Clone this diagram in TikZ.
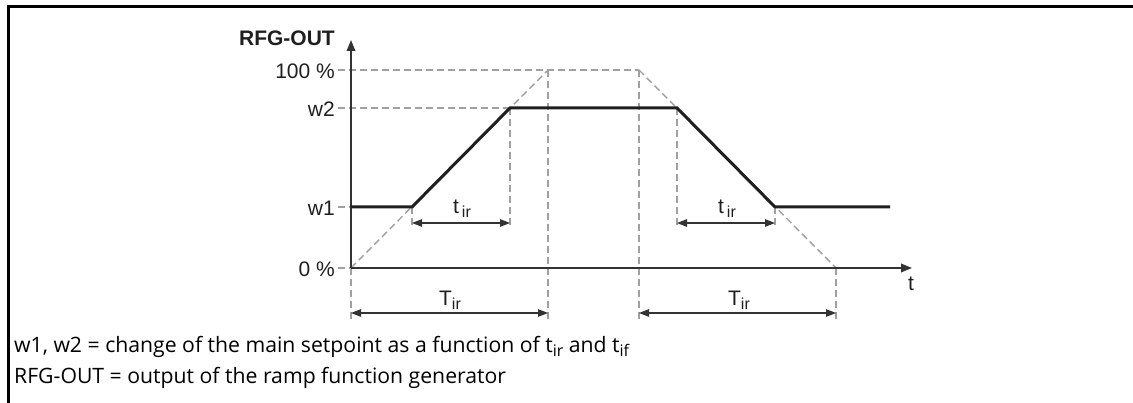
\documentclass[tikz,border=0pt]{standalone}
\usepackage{fontspec}
\setmainfont{Liberation Sans}
\newfontfamily\capfont{Open Sans}
\usetikzlibrary{arrows.meta}
\definecolor{dgray}{HTML}{333333}
\definecolor{lgray}{HTML}{A0A0A0}
\tikzset{
  axisline/.style={line width=1.8pt,draw=dgray},
  curveline/.style={line width=3pt,draw=black!88,line join=miter},
  guide/.style={line width=1.4pt,draw=lgray,dash pattern=on 7pt off 4pt},
  dimline/.style={line width=1.3pt,draw=dgray,{Triangle[length=10pt,width=7.5pt]}-{Triangle[length=10pt,width=7.5pt]}},
  lab/.style={font=\fontsize{21}{23}\selectfont,text=black!88,inner sep=0pt},
  captext/.style={font=\capfont\fontsize{21.2}{24}\selectfont,text=black,inner sep=0pt,anchor=base west},
}
\newcommand{\sbs}[1]{\raisebox{-4pt}{\fontsize{16}{17}\selectfont #1}}
\begin{document}
\begin{tikzpicture}[x=1pt,y=-1pt]
\useasboundingbox (0,0) rectangle (1133,403);
% frame
\draw[line width=3pt] (8,403) -- (8,7) -- (1133,7);
% coordinates
\coordinate (O) at (351,268);
\coordinate (Ytop) at (351,40);
\coordinate (Xend) at (912,268);
\coordinate (A) at (351,207);
\coordinate (B) at (412,207);
\coordinate (C) at (510,108);
\coordinate (D) at (677,108);
\coordinate (E) at (775,207);
\coordinate (F) at (890,207);
\coordinate (H1) at (338,70);
\coordinate (H2) at (338,108);
\coordinate (H3) at (338,207);
\coordinate (H4) at (338,268);
\coordinate (P1) at (548,70);
\coordinate (P2) at (639,70);
\coordinate (Z2) at (836,268);
% guides
\draw[guide] (H1) -- (P2);
\draw[guide] (H2) -- (C);
\draw[guide] (H3) -- (A);
\draw[guide] (H4) -- (O);
\draw[guide] (O) -- (P1);
\draw[guide] (P2) -- (Z2);
\coordinate (vB) at (412,227);
\coordinate (vC) at (510,227);
\coordinate (vD) at (677,227);
\coordinate (vE) at (775,227);
\coordinate (vO) at (351,322);
\coordinate (vP1) at (548,322);
\coordinate (vP2) at (639,322);
\coordinate (vZ) at (836,322);
\draw[guide] (B) -- (vB);
\draw[guide] (C) -- (vC);
\draw[guide] (D) -- (vD);
\draw[guide] (E) -- (vE);
\draw[guide] (O) -- (vO);
\draw[guide] (P1) -- (vP1);
\draw[guide] (P2) -- (vP2);
\draw[guide] (Z2) -- (vZ);
% axes
\draw[axisline,-{Triangle[length=11pt,width=8.5pt]}] (O) -- (Ytop);
\draw[axisline,-{Triangle[length=11pt,width=8.5pt]}] (O) -- (Xend);
% curve
\draw[curveline] (A) -- (B) -- (C) -- (D) -- (E) -- (F);
% dimension arrows
\coordinate (d1a) at (412,223);
\coordinate (d1b) at (510,223);
\coordinate (d2a) at (677,223);
\coordinate (d2b) at (775,223);
\coordinate (d3a) at (351,313);
\coordinate (d3b) at (548,313);
\coordinate (d4a) at (639,313);
\coordinate (d4b) at (836,313);
\draw[dimline] (d1a) -- (d1b);
\draw[dimline] (d2a) -- (d2b);
\draw[dimline] (d3a) -- (d3b);
\draw[dimline] (d4a) -- (d4b);
% labels
\node[lab,font=\bfseries\fontsize{21}{23}\selectfont,anchor=east] (rfg) at (335,38) {RFG-OUT};
\node[lab,anchor=east] (l100) at (335,71) {100 \%};
\node[lab,anchor=east] (lw2) at (335,109) {w2};
\node[lab,anchor=east] (lw1) at (335,208) {w1};
\node[lab,anchor=east] (l0) at (335,269) {0 \%};
\node[lab] (lt) at (911,284) {t};
\node[lab] (ltir1) at (462,209) {t\hspace{3pt}\sbs{ir}};
\node[lab] (ltir2) at (727,209) {t\hspace{3pt}\sbs{ir}};
\node[lab] (lTir1) at (450,300) {T\sbs{ir}};
\node[lab] (lTir2) at (739,300) {T\sbs{ir}};
% caption
\node[captext] (c1) at (14,353) {w1, w2 = change of the main setpoint as a function of t\raisebox{-4pt}{\fontsize{16}{17}\selectfont ir} and t\raisebox{-4pt}{\fontsize{16}{17}\selectfont if}};
\node[captext] (c2) at (14,384) {RFG-OUT = output of the ramp function generator};
\end{tikzpicture}
\end{document}
